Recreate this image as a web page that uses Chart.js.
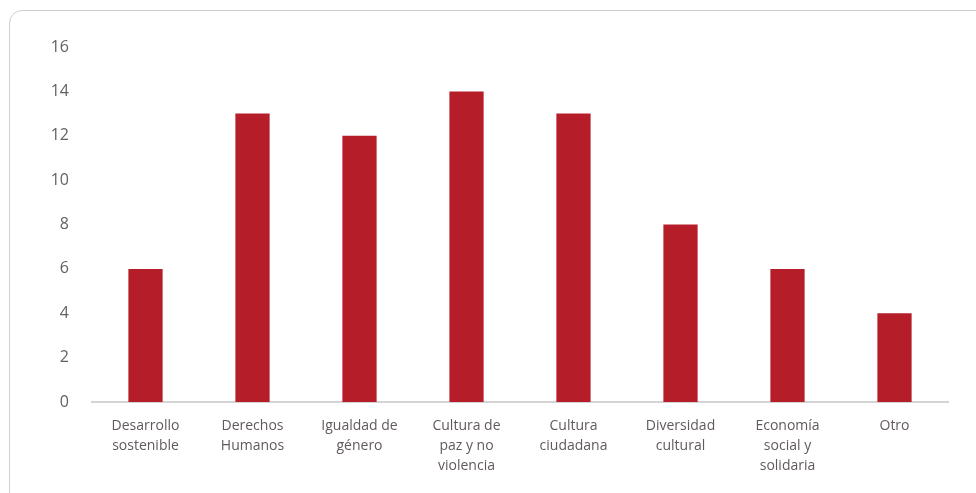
<!DOCTYPE html>
<html>
<head>
<meta charset="utf-8">
<script src="https://cdn.jsdelivr.net/npm/chart.js@4"></script>
<style>
  html, body { margin: 0; padding: 0; background: #fff; overflow: hidden; }
  #frame {
    position: absolute; left: 9px; top: 10px; width: 1000px; height: 520px;
    border: 1px solid #cfcfcf; border-radius: 13px; box-sizing: border-box;
  }
  #wrap { position: absolute; left: 0; top: 0; width: 976px; height: 493px; }
</style>
</head>
<body>
<div id="frame"></div>
<div id="wrap"><canvas id="canvas"></canvas></div>
<script>
var categories = [
	["Desarrollo", "sostenible"],
	["Derechos", "Humanos"],
	["Igualdad de", "género"],
	["Cultura de", "paz y no", "violencia"],
	["Cultura", "ciudadana"],
	["Diversidad", "cultural"],
	["Economía", "social y", "solidaria"],
	["Otro"]
];
var values = [6, 13, 12, 14, 13, 8, 6, 4];
var yTicks = { min: 0, max: 16, step: 2 };

var ctx = document.getElementById("canvas").getContext("2d");

var config = {
	type : 'bar',
	data : {
		labels : categories,
		datasets : [{
			data : values,
			backgroundColor : '#b51d28',
			borderWidth : 0,
			barPercentage : 0.32,
			categoryPercentage : 1.0
		}]
	},
	options : {
		responsive : true,
		maintainAspectRatio : false,
		animation : false,
		layout : { padding : { top : 47, right : 28, bottom : 0, left : 0 } },
		plugins : {
			legend : { display : false },
			tooltip : { enabled : false }
		},
		scales : {
			x : {
				grid : { display : false },
				border : { color : '#d4d4d4', width : 2 },
				ticks : {
					color : '#625a5a',
					font : { family : 'Open Sans', size : 14, lineHeight : 1.43 },
					padding : 6,
					maxRotation : 0,
					autoSkip : false
				},
				afterFit : function(axis) { axis.height = 91; }
			},
			y : {
				min : yTicks.min,
				max : yTicks.max,
				grid : { display : false },
				border : { display : false },
				ticks : {
					stepSize : yTicks.step,
					color : '#666060',
					font : { family : 'Open Sans', size : 16 },
					padding : 15
				},
				afterFit : function(axis) { axis.width = 92; }
			}
		}
	}
};
window.myBar = new Chart(ctx, config);
</script>
</body>
</html>
